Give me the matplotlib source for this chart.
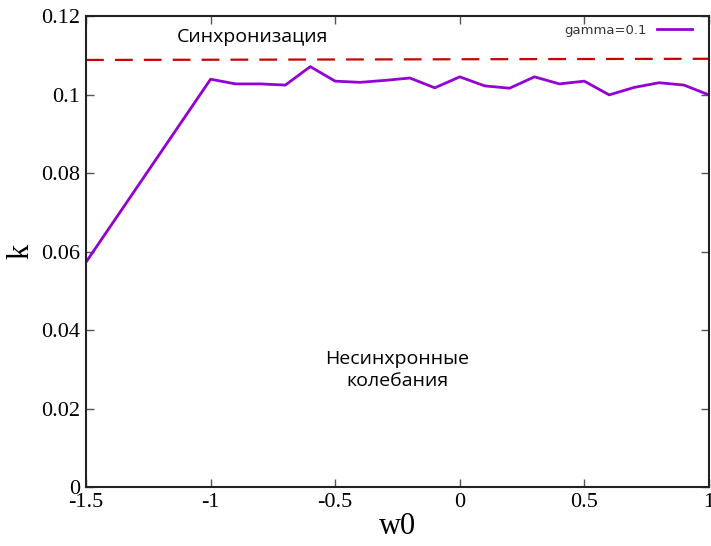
import matplotlib
matplotlib.use("Agg")
import matplotlib.pyplot as plt
import numpy as np

# data
w0 = [-1.5, -1.0, -0.9, -0.8, -0.7, -0.6, -0.5, -0.4, -0.3, -0.2, -0.1,
      0.0, 0.1, 0.2, 0.3, 0.4, 0.5, 0.6, 0.7, 0.8, 0.9, 1.0]
k = [0.0573, 0.1039, 0.1027, 0.1027, 0.1024, 0.1071, 0.1034, 0.1031, 0.1036,
     0.1042, 0.1017, 0.1045, 0.1022, 0.1016, 0.1045, 0.1027, 0.1034, 0.0999,
     0.1018, 0.1030, 0.1024, 0.0999]
sync_x = [-1.5, 1.0]
sync_k = [0.1088, 0.1091]

xticks = [-1.5, -1, -0.5, 0, 0.5, 1]
xticklabels = ["-1.5", "-1", "-0.5", "0", "0.5", "1"]
yticks = [0, 0.02, 0.04, 0.06, 0.08, 0.1, 0.12]
yticklabels = ["0", "0.02", "0.04", "0.06", "0.08", "0.1", "0.12"]

fig = plt.figure(figsize=(7.11, 5.46), dpi=100)
ax = fig.add_axes([0.121, 0.108, 0.876, 0.8627])

ax.plot(w0, k, color="#9400d3", lw=2, label="gamma=0.1")
ax.plot(sync_x, sync_k, color="#cc0000", lw=1.6, dashes=(8, 5))

ax.set_xlim(-1.5, 1)
ax.set_ylim(0, 0.12)
ax.set_xticks(xticks)
ax.set_xticklabels(xticklabels)
ax.set_yticks(yticks)
ax.set_yticklabels(yticklabels)
for lab in ax.get_xticklabels() + ax.get_yticklabels():
    lab.set_family("Liberation Serif")
    lab.set_fontsize(16)
ax.tick_params(direction="in", length=6, width=1, top=True, right=True,
               color="#555555", pad=4)
for s in ax.spines.values():
    s.set_linewidth(1.5)
    s.set_color("#222222")

ax.set_xlabel("w0", family="Liberation Serif", fontsize=22, labelpad=0)
ax.set_ylabel("k", family="Liberation Serif", fontsize=22, labelpad=4)

ax.text(-0.834, 0.1146, "Синхронизация", family="Open Sans", fontsize=14,
        ha="center", va="center")
ax.text(-0.252, 0.0298, "Несинхронные\nколебания", family="Open Sans",
        fontsize=14, ha="center", va="center", linespacing=1.3)

leg = ax.legend(loc="upper right", frameon=False, markerfirst=False,
                prop={"family": "DejaVu Sans", "size": 9.5},
                handlelength=2.6, borderaxespad=0.2, bbox_to_anchor=(0.985, 1.0))
for t in leg.get_texts():
    t.set_color("#333333")

fig.savefig("out.png", dpi=100)
